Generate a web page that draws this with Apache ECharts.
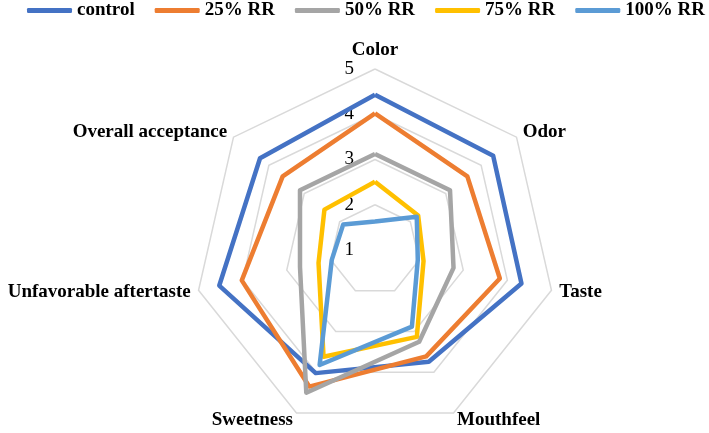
<!DOCTYPE html>
<html>
<head>
<meta charset="utf-8">
<script src="https://cdn.jsdelivr.net/npm/echarts@6.0.0/dist/echarts.min.js"></script>
<style>
  html, body { margin: 0; padding: 0; background: #fff; }
  #chart { width: 709px; height: 433px; }
</style>
</head>
<body>
<div id="chart"></div>
<script>
// attributes, clockwise from the top
var categories = ['Color', 'Odor', 'Taste', 'Mouthfeel', 'Sweetness', 'Unfavorable aftertaste', 'Overall acceptance'];
var seriesNames = ['control', '25% RR', '50% RR', '75% RR', '100% RR'];
var colors = ['#4472C4', '#ED7D31', '#A5A5A5', '#FFC000', '#5B9BD5'];

var control = [4.43, 4.34, 4.32, 3.74, 4.02, 4.53, 4.25];
var rr25 = [4.02, 3.61, 3.83, 3.61, 4.35, 4.02, 3.61];
var rr50 = [3.12, 3.12, 2.78, 3.25, 4.50, 2.70, 3.12];
var rr75 = [2.51, 2.22, 2.10, 3.13, 3.62, 2.28, 2.43];
var rr100 = [1.63, 2.18, 1.97, 2.88, 3.82, 1.98, 1.90];

var ticks = [1, 2, 3, 4, 5];

var allValues = [control, rr25, rr50, rr75, rr100];

// echarts places indicators counter-clockwise, so flip the order after the first one
var order = [0];
for (var i = categories.length - 1; i > 0; i--) order.push(i);

var serif = 'Liberation Serif';

var indicator = order.map(function (k, j) {
  var ind = { name: categories[k], min: ticks[0], max: ticks[ticks.length - 1] };
  if (j === 0) {
    // only the top axis carries the numbers
    ind.axisLabel = {
      show: true,
      color: '#000',
      fontFamily: serif,
      fontSize: 19,
      margin: 21
    };
  }
  return ind;
});

var data = allValues.map(function (vals, s) {
  return {
    name: seriesNames[s],
    value: order.map(function (k) { return vals[k]; }),
    symbol: 'none',
    lineStyle: { color: colors[s], width: 4.5 },
    itemStyle: { color: colors[s] }
  };
});

var chart = echarts.init(document.getElementById('chart'));
chart.setOption({
  animation: false,
  legend: {
    top: 1,
    left: 27,
    padding: 0,
    icon: 'roundRect',
    itemWidth: 45,
    itemHeight: 5,
    itemGap: 20,
    textStyle: { color: '#000', fontFamily: serif, fontWeight: 'bold', fontSize: 19 },
    data: seriesNames
  },
  radar: {
    center: [375, 250],
    radius: 181,
    startAngle: 90,
    shape: 'polygon',
    splitNumber: ticks.length - 1,
    nameGap: 8,
    axisName: { color: '#000', fontFamily: serif, fontWeight: 'bold', fontSize: 19 },
    axisLine: { show: false },
    axisTick: { show: false },
    axisLabel: { show: false },
    splitLine: { lineStyle: { color: '#D9D9D9', width: 1.5 } },
    splitArea: { show: false },
    indicator: indicator
  },
  series: [{
    type: 'radar',
    symbol: 'none',
    data: data
  }]
});
</script>
</body>
</html>
